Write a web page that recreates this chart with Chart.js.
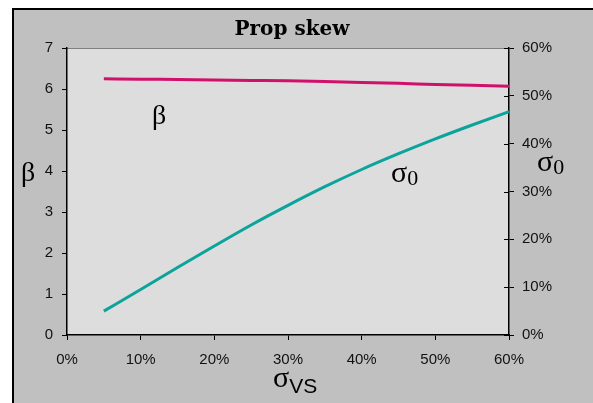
<!DOCTYPE html>
<html>
<head>
<meta charset="utf-8">
<script src="https://cdn.jsdelivr.net/npm/chart.js@4/dist/chart.umd.min.js"></script>
<style>
  html, body { margin: 0; padding: 0; background: #fff; }
  #chart { display: block; }
</style>
</head>
<body>
<canvas id="chart" width="593" height="403"></canvas>
<script>
// sigma_VS on the x axis
const sigmaVS = [0.05, 0.10, 0.15, 0.20, 0.25, 0.30, 0.35, 0.40, 0.45, 0.50, 0.55, 0.60];
// beta (left axis)
const betaVals = [6.25, 6.24, 6.23, 6.22, 6.21, 6.20, 6.18, 6.16, 6.14, 6.11, 6.09, 6.07];
// sigma_0 (right axis)
const sigma0Vals = [0.050, 0.095, 0.141, 0.186, 0.230, 0.271, 0.310, 0.346, 0.379, 0.410, 0.439, 0.467];

const leftTicks = [0, 1, 2, 3, 4, 5, 6, 7];
const pctTicks = [0, 0.1, 0.2, 0.3, 0.4, 0.5, 0.6];

const pct = v => Math.round(v * 100) + '%';
const tickFont = { family: 'Liberation Sans', size: 15 };

// gray frame + plot background
const backdrop = {
    id: 'backdrop',
    beforeDraw(chart) {
        const c = chart.ctx, a = chart.chartArea;
        c.save();
        c.fillStyle = '#fff';
        c.fillRect(0, 0, chart.width, chart.height);
        c.fillStyle = '#c0c0c0';
        c.fillRect(12, 8, chart.width, chart.height);
        c.strokeStyle = '#000';
        c.lineWidth = 2;
        c.beginPath();
        c.moveTo(13, chart.height + 2);
        c.lineTo(13, 9);
        c.lineTo(chart.width + 2, 9);
        c.stroke();
        c.fillStyle = '#dddddd';
        c.fillRect(a.left, a.top, a.right - a.left, a.bottom - a.top);
        c.strokeStyle = '#808080';
        c.lineWidth = 1;
        c.beginPath();
        c.moveTo(a.left, a.top + 0.5);
        c.lineTo(a.right, a.top + 0.5);
        c.stroke();
        c.restore();
    }
};

// right axis ticks cross the axis line
const crossTicks = {
    id: 'crossTicks',
    afterDatasetsDraw(chart) {
        const c = chart.ctx, s = chart.scales.y2;
        c.save();
        c.strokeStyle = '#000';
        c.lineWidth = 1;
        c.beginPath();
        s.ticks.forEach(t => {
            const y = Math.round(s.getPixelForValue(t.value)) + 0.5;
            c.moveTo(s.left - 5, y);
            c.lineTo(s.left, y);
        });
        c.stroke();
        c.restore();
    }
};

// title and greek-letter labels
const labels = {
    id: 'labels',
    afterDraw(chart) {
        const c = chart.ctx;
        c.save();
        c.fillStyle = '#000';
        c.textBaseline = 'alphabetic';

        c.font = 'bold 20px "DejaVu Serif"';
        c.textAlign = 'center';
        c.fillText('Prop skew', 292, 35);

        c.textAlign = 'left';
        c.font = '28px "Liberation Serif"';
        c.fillText('β', 21, 181);
        c.fillText('β', 152, 124);

        const sub = (x, y, main, s, mainFont, subFont, drop) => {
            c.font = mainFont;
            c.fillText(main, x, y);
            const w = c.measureText(main).width;
            c.font = subFont;
            c.fillText(s, x + w, y + drop);
        };
        sub(391, 182, 'σ', '0', '30px "Liberation Serif"', '22px "Liberation Serif"', 3);
        sub(537, 171, 'σ', '0', '30px "Liberation Serif"', '22px "Liberation Serif"', 3);
        sub(273, 387, 'σ', 'VS', '30px "Liberation Serif"', '21px "Liberation Sans"', 6);
        c.restore();
    }
};

new Chart(document.getElementById('chart'), {
    type: 'line',
    data: {
        datasets: [
            {
                label: 'beta',
                data: sigmaVS.map((x, i) => ({ x: x, y: betaVals[i] })),
                borderColor: '#d1106b',
                borderWidth: 3,
                pointRadius: 0,
                cubicInterpolationMode: 'monotone',
                yAxisID: 'y'
            },
            {
                label: 'sigma0',
                data: sigmaVS.map((x, i) => ({ x: x, y: sigma0Vals[i] })),
                borderColor: '#0ba39b',
                borderWidth: 3,
                pointRadius: 0,
                cubicInterpolationMode: 'monotone',
                yAxisID: 'y2'
            }
        ]
    },
    options: {
        responsive: false,
        animation: false,
        layout: { padding: { top: 48, left: 0, right: 0, bottom: 0 } },
        plugins: { legend: { display: false }, tooltip: { enabled: false } },
        scales: {
            x: {
                type: 'linear',
                min: 0, max: 0.6,
                afterBuildTicks: s => { s.ticks = pctTicks.map(v => ({ value: v })); },
                afterFit: s => { s.height = 68; },
                ticks: { callback: pct, font: tickFont, color: '#111', padding: 11, maxRotation: 0 },
                grid: { drawOnChartArea: false, tickLength: 5, color: '#000' },
                border: { color: '#000', width: 1.5 }
            },
            y: {
                position: 'left',
                min: 0, max: 7,
                afterBuildTicks: s => { s.ticks = leftTicks.map(v => ({ value: v })); },
                afterFit: s => { s.width = 67; },
                ticks: { font: tickFont, color: '#111', padding: 9 },
                grid: { drawOnChartArea: false, tickLength: 5, color: '#000' },
                border: { color: '#000', width: 1.5 }
            },
            y2: {
                position: 'right',
                min: 0, max: 0.6,
                afterBuildTicks: s => { s.ticks = pctTicks.map(v => ({ value: v })); },
                afterFit: s => { s.width = 84; },
                ticks: { callback: pct, font: tickFont, color: '#111', padding: 8 },
                grid: { drawOnChartArea: false, tickLength: 5, color: '#000' },
                border: { color: '#000', width: 1.5 }
            }
        }
    },
    plugins: [backdrop, crossTicks, labels]
});
</script>
</body>
</html>
